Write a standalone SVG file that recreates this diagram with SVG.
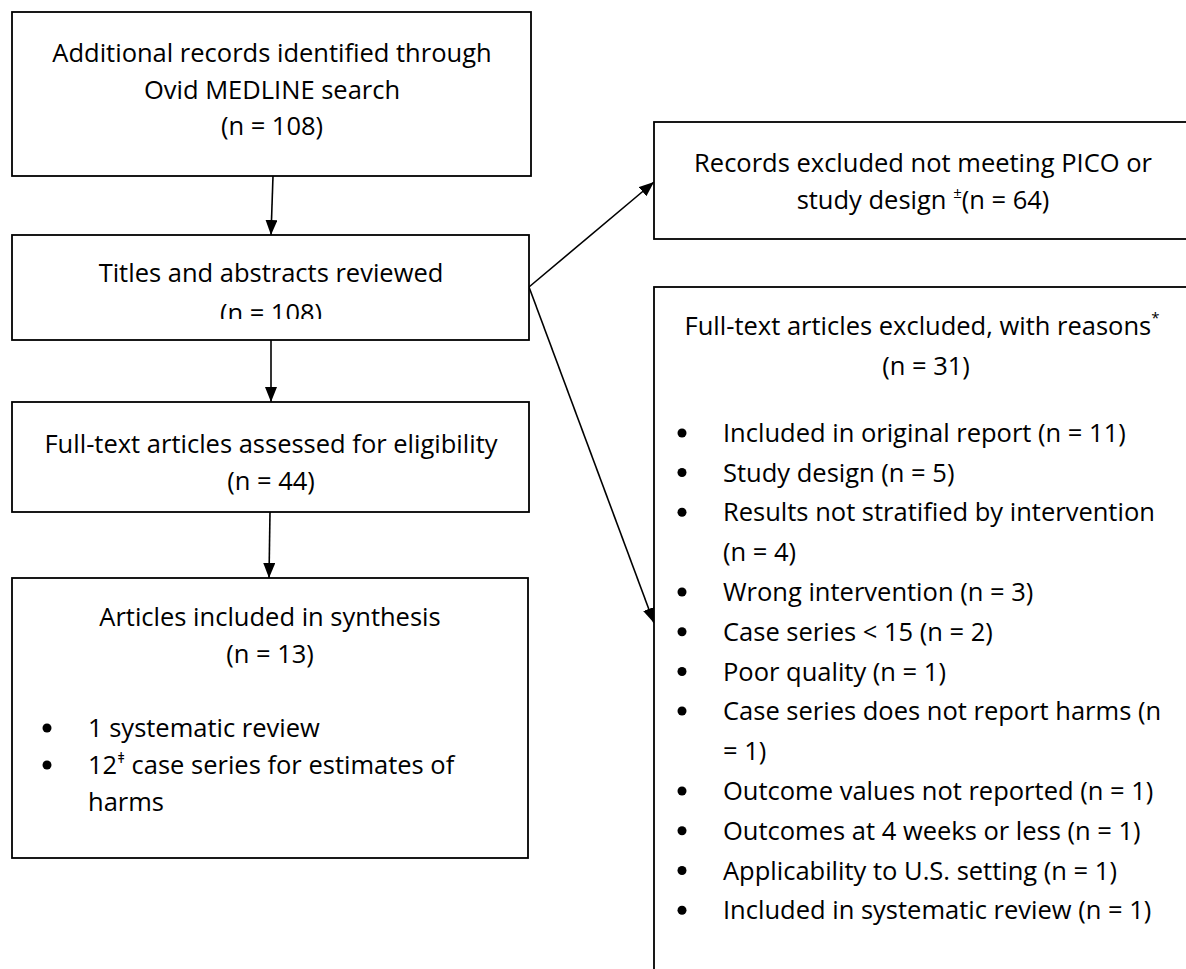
<svg xmlns="http://www.w3.org/2000/svg" width="1186" height="969" viewBox="0 0 1186 969">
<style>
  .box { fill: #ffffff; stroke: #000000; stroke-width: 1.8; }
  .t { font-family: "Open Sans", "Noto Sans", "Liberation Sans", sans-serif; font-size: 25.5px; fill: #000000; }
  .c { text-anchor: middle; }
  .conn { stroke: #000000; stroke-width: 1.6; fill: none; marker-end: url(#arrow); }
  .dot { fill: #000000; }
</style>
<defs>
  <marker id="arrow" viewBox="0 0 15 12" refX="15" refY="6" markerWidth="15" markerHeight="12" markerUnits="userSpaceOnUse" orient="auto">
    <path d="M0,0 L15,6 L0,12 z" fill="#000000"/>
  </marker>
  <clipPath id="clip2">
    <rect x="12" y="235" width="517" height="84"/>
  </clipPath>
</defs>
<rect x="0" y="0" width="1186" height="969" fill="#ffffff"/>

<g id="connectors">
  <line class="conn" x1="273" y1="176" x2="271" y2="235"/>
  <line class="conn" x1="271" y1="340" x2="271" y2="402"/>
  <line class="conn" x1="270" y1="512" x2="269" y2="578"/>
  <line class="conn" x1="529" y1="287" x2="654" y2="182"/>
  <line class="conn" x1="529" y1="287" x2="654" y2="623"/>
</g>

<g id="node-records">
  <rect class="box" x="12" y="12" width="519" height="164"/>
  <text class="t c" x="272" y="62">Additional records identified through</text>
  <text class="t c" x="272" y="98.5">Ovid MEDLINE search</text>
  <text class="t c" x="272" y="135">(n = 108)</text>
</g>

<g id="node-titles">
  <rect class="box" x="12" y="235" width="517" height="105"/>
  <text class="t c" x="271" y="282">Titles and abstracts reviewed</text>
  <text class="t c" x="271" y="322" clip-path="url(#clip2)">(n = 108)</text>
</g>

<g id="node-fulltext">
  <rect class="box" x="12" y="402" width="517" height="110"/>
  <text class="t c" x="271" y="453">Full-text articles assessed for eligibility</text>
  <text class="t c" x="271" y="490">(n = 44)</text>
</g>

<g id="node-included">
  <rect class="box" x="12" y="578" width="516" height="280"/>
  <text class="t c" x="270" y="626">Articles included in synthesis</text>
  <text class="t c" x="270" y="663">(n = 13)</text>
  <circle class="dot" cx="47" cy="728" r="4.5"/>
  <text class="t" x="88" y="737">1 systematic review</text>
  <circle class="dot" cx="47" cy="765" r="4.5"/>
  <text class="t" x="88" y="774">12<tspan font-size="15" dy="-11">ǂ</tspan><tspan dy="11"> case series for estimates of</tspan></text>
  <text class="t" x="88" y="811">harms</text>
</g>

<g id="node-excluded-pico">
  <rect class="box" x="654" y="122" width="540" height="117"/>
  <text class="t c" x="923" y="172">Records excluded not meeting PICO or</text>
  <text class="t c" x="923" y="209">study design <tspan font-size="15" dy="-11">±</tspan><tspan dy="11">(n = 64)</tspan></text>
</g>

<g id="node-excluded-fulltext">
  <rect class="box" x="654" y="287" width="540" height="720"/>
  <text class="t c" x="922" y="335">Full-text articles excluded, with reasons<tspan font-size="15" dy="-12">*</tspan></text>
  <text class="t c" x="926" y="375">(n = 31)</text>
  <circle class="dot" cx="682" cy="433" r="4.5"/>
  <text class="t" x="723" y="442">Included in original report (n = 11)</text>
  <circle class="dot" cx="682" cy="472.5" r="4.5"/>
  <text class="t" x="723" y="481.5">Study design (n = 5)</text>
  <circle class="dot" cx="682" cy="512.3" r="4.5"/>
  <text class="t" x="723" y="521.3">Results not stratified by intervention</text>
  <text class="t" x="723" y="561">(n = 4)</text>
  <circle class="dot" cx="682" cy="592" r="4.5"/>
  <text class="t" x="723" y="601">Wrong intervention (n = 3)</text>
  <circle class="dot" cx="682" cy="631.7" r="4.5"/>
  <text class="t" x="723" y="640.7">Case series &lt; 15 (n = 2)</text>
  <circle class="dot" cx="682" cy="671.5" r="4.5"/>
  <text class="t" x="723" y="680.5">Poor quality (n = 1)</text>
  <circle class="dot" cx="682" cy="711" r="4.5"/>
  <text class="t" x="723" y="720">Case series does not report harms (n</text>
  <text class="t" x="723" y="760">= 1)</text>
  <circle class="dot" cx="682" cy="791" r="4.5"/>
  <text class="t" x="723" y="800">Outcome values not reported (n = 1)</text>
  <circle class="dot" cx="682" cy="830.7" r="4.5"/>
  <text class="t" x="723" y="839.7">Outcomes at 4 weeks or less (n = 1)</text>
  <circle class="dot" cx="682" cy="870.5" r="4.5"/>
  <text class="t" x="723" y="879.5">Applicability to U.S. setting (n = 1)</text>
  <circle class="dot" cx="682" cy="910.3" r="4.5"/>
  <text class="t" x="723" y="919.3">Included in systematic review (n = 1)</text>
</g>
</svg>
